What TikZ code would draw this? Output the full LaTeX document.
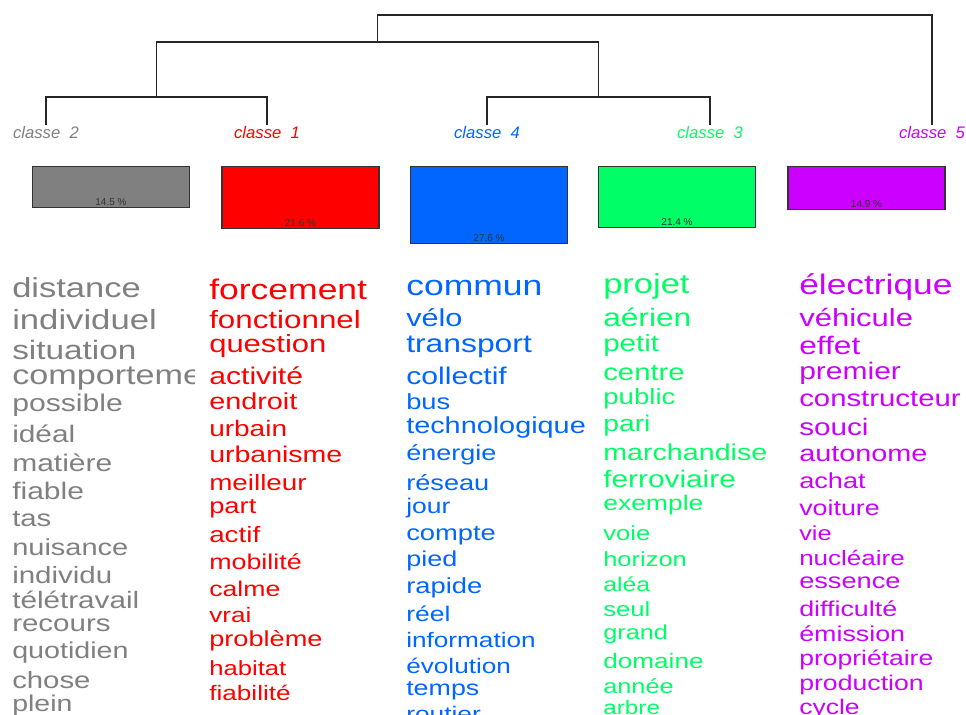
\documentclass[tikz,border=0pt]{standalone}
\usepackage{fontspec}
\setmainfont{Liberation Sans}
\usepackage{graphicx}
\usepackage{tikz}
\usepackage{xcolor}
\usetikzlibrary{positioning}

\definecolor{cl-gray}{HTML}{808080}
\definecolor{cl-red}{HTML}{FF0000}
\definecolor{cl-blue}{HTML}{0066FF}
\definecolor{cl-green}{HTML}{00FF66}
\definecolor{cl-purple}{HTML}{CC00FF}

\newcommand{\wtxt}[2]{\scalebox{1.25}[1]{\fontsize{#1}{#1}\selectfont #2}}

\begin{document}
\begin{tikzpicture}
[
x=0.75pt, y=-0.75pt,
link/.style={draw=black!85, line width=0.9pt},
label-a/.style={anchor=base, inner sep=1pt, font=\itshape\fontsize{12.5}{12.5}\selectfont},
box-a/.style={draw=black!80, line width=0.8pt, minimum width=117.75pt, anchor=north, inner sep=0pt},
pct-a/.style={inner sep=0pt, text=black!80, font=\fontsize{7.5}{7.5}\selectfont},
word-a/.style={anchor=base west, inner sep=0pt},
word-2/.style={word-a, text=cl-gray},
word-1/.style={word-a, text=cl-red},
word-4/.style={word-a, text=cl-blue},
word-3/.style={word-a, text=cl-green},
word-5/.style={word-a, text=cl-purple}
]

\useasboundingbox (0,0) rectangle (966,714);
\clip (0,0) rectangle (966,714);

% class labels
\node (lbl-2) [label-a, text=cl-gray]   at (46,138.5)  {classe\ \ 2};
\node (lbl-1) [label-a, text=cl-red]    at (267,138.5) {classe\ \ 1};
\node (lbl-4) [label-a, text=cl-blue]   at (487,138.5) {classe\ \ 4};
\node (lbl-3) [label-a, text=cl-green]  at (710,138.5) {classe\ \ 3};
\node (lbl-5) [label-a, text=cl-purple] at (932,138.5) {classe\ \ 5};

% dendrogram
\coordinate (j-21)   at (156.5,97);
\coordinate (j-43)   at (598.5,97);
\coordinate (j-2143) at (377.5,42);
\coordinate (j-top)  at (655,15);
\draw [link] (lbl-2.north) |- (j-21) -| (lbl-1.north);
\draw [link] (lbl-4.north) |- (j-43) -| (lbl-3.north);
\draw [link] (j-21) |- (j-2143) -| (j-43);
\draw [link] (j-2143) |- (j-top) -| (lbl-5.north);

% class sizes
\node (box-2) [box-a, fill=cl-gray,   minimum height=30.75pt] at (111,166)   {};
\node (box-1) [box-a, fill=cl-red,    minimum height=46.5pt]  at (300.5,166) {};
\node (box-4) [box-a, fill=cl-blue,   minimum height=57.75pt] at (489,166)   {};
\node (box-3) [box-a, fill=cl-green,  minimum height=45.75pt] at (677,166)   {};
\node (box-5) [box-a, fill=cl-purple, minimum height=32.25pt] at (866.5,166) {};
\node (pct-2) [pct-a, above=2pt of box-2.south] {14.5 \%};
\node (pct-1) [pct-a, above=2pt of box-1.south] {21.6 \%};
\node (pct-4) [pct-a, above=2pt of box-4.south] {27.6 \%};
\node (pct-3) [pct-a, above=2pt of box-3.south] {21.4 \%};
\node (pct-5) [pct-a, above=2pt of box-5.south] {14.9 \%};

% words of classe 2
\begin{scope}
\clip (0,250) rectangle (194,714);
\node (w2-1)  [word-2] at (12,297.7) {\wtxt{20.7}{distance}};
\node (w2-2)  [word-2] at (12,329.3) {\wtxt{20.8}{individuel}};
\node (w2-3)  [word-2] at (12,359.3) {\wtxt{20}{situation}};
\node (w2-4)  [word-2] at (12,384)   {\wtxt{20.5}{comportement}};
\node (w2-5)  [word-2] at (12,411.7) {\wtxt{18.1}{possible}};
\node (w2-6)  [word-2] at (12,442.7) {\wtxt{17.9}{idéal}};
\node (w2-7)  [word-2] at (12,471.7) {\wtxt{18}{matière}};
\node (w2-8)  [word-2] at (12,499.3) {\wtxt{18}{fiable}};
\node (w2-9)  [word-2] at (12,526.7) {\wtxt{17.6}{tas}};
\node (w2-10) [word-2] at (12,555)   {\wtxt{17.4}{nuisance}};
\node (w2-11) [word-2] at (12,583.3) {\wtxt{17.7}{individu}};
\node (w2-12) [word-2] at (12,608.3) {\wtxt{17.8}{télétravail}};
\node (w2-13) [word-2] at (12,631.7) {\wtxt{17.7}{recours}};
\node (w2-14) [word-2] at (12,658.3) {\wtxt{17.2}{quotidien}};
\node (w2-15) [word-2] at (12,688.3) {\wtxt{17.6}{chose}};
\node (w2-16) [word-2] at (12,711.7) {\wtxt{17.1}{plein}};
\end{scope}

% words of classe 1
\node (w1-1)  [word-1] at (209,299.3) {\wtxt{21.3}{forcement}};
\node (w1-2)  [word-1] at (209,328.3) {\wtxt{18.8}{fonctionnel}};
\node (w1-3)  [word-1] at (209,352.7) {\wtxt{18.6}{question}};
\node (w1-4)  [word-1] at (209,384)   {\wtxt{18.1}{activité}};
\node (w1-5)  [word-1] at (209,409.3) {\wtxt{17.3}{endroit}};
\node (w1-6)  [word-1] at (209,436.7) {\wtxt{16.8}{urbain}};
\node (w1-7)  [word-1] at (209,462.7) {\wtxt{17.1}{urbanisme}};
\node (w1-8)  [word-1] at (209,490)   {\wtxt{16.7}{meilleur}};
\node (w1-9)  [word-1] at (209,513.3) {\wtxt{16.4}{part}};
\node (w1-10) [word-1] at (209,542.7) {\wtxt{16.7}{actif}};
\node (w1-11) [word-1] at (209,569.3) {\wtxt{16.1}{mobilité}};
\node (w1-12) [word-1] at (209,596.7) {\wtxt{16}{calme}};
\node (w1-13) [word-1] at (209,622.7) {\wtxt{15.7}{vrai}};
\node (w1-14) [word-1] at (209,646.7) {\wtxt{16.3}{problème}};
\node (w1-15) [word-1] at (209,675)   {\wtxt{15.4}{habitat}};
\node (w1-16) [word-1] at (209,700)   {\wtxt{15.7}{fiabilité}};

% words of classe 4
\node (w4-1)  [word-4] at (406,295)   {\wtxt{21.3}{commun}};
\node (w4-2)  [word-4] at (406,326.7) {\wtxt{18.4}{vélo}};
\node (w4-3)  [word-4] at (406,352.7) {\wtxt{19.1}{transport}};
\node (w4-4)  [word-4] at (406,384)   {\wtxt{18.1}{collectif}};
\node (w4-5)  [word-4] at (406,409.3) {\wtxt{16.4}{bus}};
\node (w4-6)  [word-4] at (406,433.3) {\wtxt{17.3}{technologique}};
\node (w4-7)  [word-4] at (406,460)   {\wtxt{16.2}{énergie}};
\node (w4-8)  [word-4] at (406,490)   {\wtxt{16.3}{réseau}};
\node (w4-9)  [word-4] at (406,513.3) {\wtxt{15.9}{jour}};
\node (w4-10) [word-4] at (406,540)   {\wtxt{16.4}{compte}};
\node (w4-11) [word-4] at (406,566.7) {\wtxt{16.2}{pied}};
\node (w4-12) [word-4] at (406,593.3) {\wtxt{16.4}{rapide}};
\node (w4-13) [word-4] at (406,621.7) {\wtxt{15.9}{réel}};
\node (w4-14) [word-4] at (406,647.7) {\wtxt{15.7}{information}};
\node (w4-15) [word-4] at (406,673.3) {\wtxt{15.7}{évolution}};
\node (w4-16) [word-4] at (406,695)   {\wtxt{16.1}{temps}};
\node (w4-17) [word-4] at (406,721.7) {\wtxt{15.8}{routier}};

% words of classe 3
\node (w3-1)  [word-3] at (603,293.3) {\wtxt{20.7}{projet}};
\node (w3-2)  [word-3] at (603,326.7) {\wtxt{19}{aérien}};
\node (w3-3)  [word-3] at (603,351.7) {\wtxt{17.7}{petit}};
\node (w3-4)  [word-3] at (603,380)   {\wtxt{17.6}{centre}};
\node (w3-5)  [word-3] at (603,404)   {\wtxt{16.6}{public}};
\node (w3-6)  [word-3] at (603,431.7) {\wtxt{17}{pari}};
\node (w3-7)  [word-3] at (603,460)   {\wtxt{17.2}{marchandise}};
\node (w3-8)  [word-3] at (603,487.3) {\wtxt{17.9}{ferroviaire}};
\node (w3-9)  [word-3] at (603,510)   {\wtxt{15.9}{exemple}};
\node (w3-10) [word-3] at (603,540)   {\wtxt{15.4}{voie}};
\node (w3-11) [word-3] at (603,566)   {\wtxt{15.3}{horizon}};
\node (w3-12) [word-3] at (603,591.7) {\wtxt{14.9}{aléa}};
\node (w3-13) [word-3] at (603,616.7) {\wtxt{15.4}{seul}};
\node (w3-14) [word-3] at (603,639.3) {\wtxt{15.2}{grand}};
\node (w3-15) [word-3] at (603,668.3) {\wtxt{15.7}{domaine}};
\node (w3-16) [word-3] at (603,693.3) {\wtxt{15.2}{année}};
\node (w3-17) [word-3] at (603,714)   {\wtxt{14.6}{arbre}};

% words of classe 5
\node (w5-1)  [word-5] at (799,294)   {\wtxt{21.2}{électrique}};
\node (w5-2)  [word-5] at (799,326.7) {\wtxt{18.6}{véhicule}};
\node (w5-3)  [word-5] at (799,354)   {\wtxt{19}{effet}};
\node (w5-4)  [word-5] at (799,379.3) {\wtxt{18}{premier}};
\node (w5-5)  [word-5] at (799,406.7) {\wtxt{17.6}{constructeur}};
\node (w5-6)  [word-5] at (799,435)   {\wtxt{17.8}{souci}};
\node (w5-7)  [word-5] at (799,461.7) {\wtxt{17.3}{autonome}};
\node (w5-8)  [word-5] at (799,488.3) {\wtxt{16.3}{achat}};
\node (w5-9)  [word-5] at (799,515)   {\wtxt{16.1}{voiture}};
\node (w5-10) [word-5] at (799,540)   {\wtxt{15.2}{vie}};
\node (w5-11) [word-5] at (799,565)   {\wtxt{15.6}{nucléaire}};
\node (w5-12) [word-5] at (799,588.3) {\wtxt{16.3}{essence}};
\node (w5-13) [word-5] at (799,616)   {\wtxt{16.1}{difficulté}};
\node (w5-14) [word-5] at (799,641.7) {\wtxt{16.1}{émission}};
\node (w5-15) [word-5] at (799,665)   {\wtxt{15.9}{propriétaire}};
\node (w5-16) [word-5] at (799,690)   {\wtxt{16}{production}};
\node (w5-17) [word-5] at (799,714)   {\wtxt{15.9}{cycle}};

\end{tikzpicture}
\end{document}
